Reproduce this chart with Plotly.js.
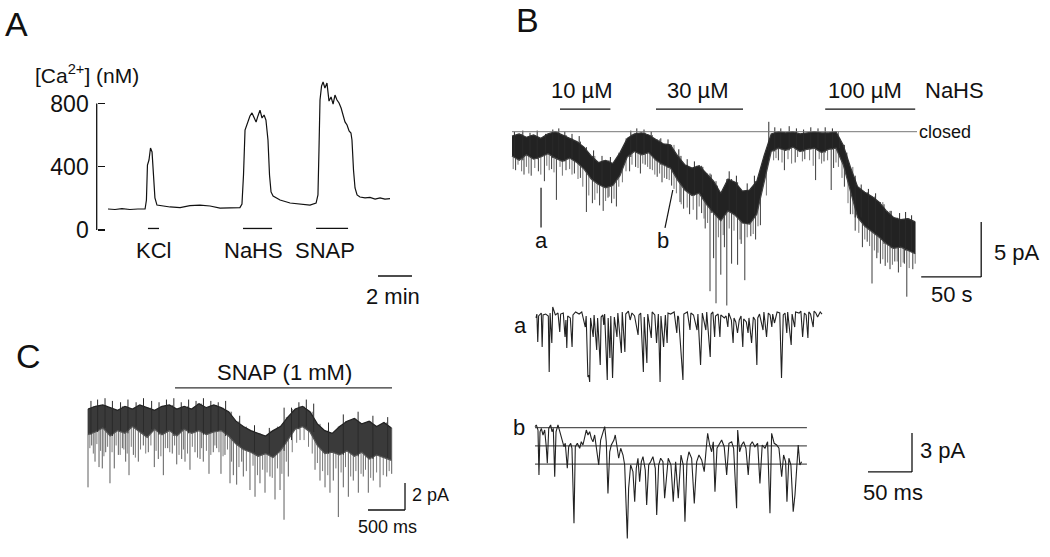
<!DOCTYPE html>
<html>
<head>
<meta charset="utf-8">
<script src="https://cdn.plot.ly/plotly-3.0.1.min.js"></script>
<style>html,body{margin:0;padding:0;background:#fff}#fig{width:1050px;height:557px}</style>
</head>
<body>
<div id="fig"></div>
<script>
// ---- panel A: cytosolic Ca2+ (min, nM)
var caT = [0,0.41,0.82,1.29,1.76,2.18,2.26,2.32,2.41,2.5,2.59,2.68,2.76,2.88,3.18,3.65,4.24,4.82,5.41,6.0,6.59,7.18,7.76,7.88,7.97,8.06,8.24,8.35,8.47,8.59,8.71,8.82,8.94,9.06,9.18,9.29,9.41,9.5,9.59,9.71,9.88,10.12,10.71,11.29,11.88,12.24,12.35,12.41,12.47,12.56,12.65,12.76,12.88,13.0,13.12,13.24,13.35,13.47,13.59,13.71,13.82,13.94,14.06,14.18,14.29,14.35,14.44,14.53,14.65,14.82,15.12,15.41,15.71,16.0,16.29,16.59]
var caV = [133,130,136,130,133,133,190,411,443,519,494,329,203,158,152,146,142,155,158,152,139,139,142,165,348,633,684,722,741,709,684,722,759,709,728,696,570,348,241,215,203,190,171,165,158,171,222,506,823,911,937,899,930,816,842,797,854,823,804,772,728,684,665,627,614,570,380,266,222,209,203,206,196,203,196,199]
var caDrugs = ['KCl', 'NaHS', 'SNAP']
var caOn = [2.35, 7.94, 12.24]
var caOff = [3.0, 9.65, 14.12]
var caTicks = [0, 400, 800]

// ---- panel B: single channel current vs time (s, pA), band of the noisy record
var bT = [0,6,12,18,24,30,36,42,48,54,60,66,72,78,84,90,96,102,108,114,120,126,132,138,144,150,156,162,168,174,180,186,192,198,204,210,216,222,228,234,240,246,252,258,264,270,276,282,288,294,300,306,312,318,324,330,336]
var bHi = [-0.4,-0.2,-0.5,-0.3,-0.6,-0.2,0.0,-0.3,-0.6,-0.9,-1.4,-2.2,-2.8,-2.6,-2.9,-1.9,-0.6,-0.2,-0.1,-0.3,-0.7,-1.1,-1.2,-2.2,-3.0,-3.3,-3.1,-3.8,-4.5,-5.6,-4.3,-4.6,-5.4,-5.3,-4.5,-2.2,-0.2,0.0,-0.1,0.0,-0.2,-0.1,0.0,-0.1,-0.1,0.0,-1.2,-3.2,-5.0,-5.5,-5.9,-6.4,-7.2,-7.8,-8.0,-7.9,-8.2]
var bLo = [-2.2,-2.6,-2.1,-2.5,-2.3,-2.0,-2.4,-2.7,-2.4,-2.8,-3.4,-4.3,-4.8,-5.1,-4.9,-4.0,-2.3,-1.8,-2.1,-1.9,-2.6,-3.0,-3.3,-4.4,-5.3,-5.8,-5.6,-6.6,-7.4,-8.1,-7.2,-7.6,-8.3,-8.4,-7.5,-4.6,-1.8,-1.5,-1.7,-1.4,-1.8,-1.6,-1.5,-1.9,-1.6,-1.5,-3.0,-5.4,-7.8,-8.6,-9.1,-9.6,-10.2,-10.6,-10.5,-10.8,-11.1]
// large openings (s, tip pA)
var bSpT = [3,10,16,22,27,33,37,45,52,57,62,67,73,76,80,83,87,98,103,107,111,115,121,125,129,133,140,143,148,154,158,161,165,168,170,174,177,179,183,188,191,194,199,203,207,222,227,236,244,253,260,266,268,277,282,286,292,296,300,304,307,311,315,319,322,327,329,334]
var bSpV = [-3.5,-3.9,-4.0,-3.6,-4.5,-3.4,-6.2,-3.5,-3.8,-4.2,-7.3,-6.5,-6.7,-7.2,-6.0,-6.5,-6.8,-3.6,-3.2,-3.8,-3.0,-3.4,-4.1,-4.6,-4.3,-4.9,-6.4,-7.0,-7.5,-8.0,-7.4,-8.8,-14.5,-11.5,-15.6,-13.0,-10.5,-15.8,-12.0,-12.1,-10.2,-13.5,-9.5,-9.8,-8.5,-2.6,-3.5,-2.8,-2.5,-4.4,-2.7,-5.3,-3.3,-5.0,-7.5,-9.0,-10.5,-10.0,-13.8,-11.5,-12.0,-12.2,-12.5,-11.8,-12.8,-12.0,-15.0,-12.5]
// small openings forming the grey fringe (s, tip pA)
var bFineT = [1,5,8,12,14,19,24,29,31,35,40,42,48,50,55,59,64,69,71,78,81,85,89,92,95,100,105,109,113,117,119,123,127,131,135,137,141,146,151,156,160,163,172,176,181,185,190,196,201,205,212,218,220,225,230,233,238,242,248,251,256,258,263,270,272,275,280,284,289,294,298,302,305,309,313,317,321,324,326,331,336]
var bFineV = [-3.4,-3.0,-3.6,-3.2,-3.8,-3.3,-3.9,-3.1,-3.5,-3.7,-3.2,-4.0,-3.4,-3.9,-4.3,-5.0,-5.8,-6.2,-5.6,-6.3,-5.9,-6.1,-5.0,-4.6,-3.6,-3.0,-3.3,-2.9,-3.2,-3.5,-3.9,-3.8,-4.2,-4.4,-5.2,-5.6,-6.6,-6.9,-7.1,-6.8,-7.9,-8.3,-9.6,-9.4,-8.8,-9.0,-9.8,-9.6,-9.3,-8.6,-5.8,-2.6,-2.4,-2.8,-2.5,-2.9,-2.3,-2.7,-2.6,-3.1,-2.5,-2.9,-2.6,-2.8,-3.2,-4.2,-6.5,-7.5,-9.2,-9.8,-10.4,-10.8,-11.0,-11.6,-11.9,-12.1,-11.8,-12.3,-11.9,-12.4,-12.0]
// brief closures poking above the band (s, tip pA)
var bUpT = [2,9,15,21,28,34,39,44,50,56,68,75,82,99,104,110,116,124,130,139,146,152,159,166,171,181,187,196,202,214,219,224,231,237,243,249,255,261,267,273,279,286,291,297,303,310,316,323,328,333]
var bUpV = [0.0,0.1,-0.1,0.1,-0.2,0.2,0.3,0.0,-0.2,-0.4,-1.7,-2.2,-2.3,0.1,0.3,0.2,0.0,-0.6,-0.7,-1.6,-2.5,-2.7,-3.2,-3.9,-4.9,-3.6,-4.0,-4.7,-4.0,0.9,0.4,0.3,0.5,0.3,0.2,0.4,0.3,0.4,0.3,-0.6,-1.9,-4.0,-4.8,-5.2,-5.6,-6.6,-7.2,-7.4,-7.3,-7.6]
var bConc = ['10 µM', '30 µM', '100 µM']
var bOn = [40, 120, 261]
var bOff = [82, 192.5, 336]
var bClosedEnd = 337.5
var bMarks = ['a', 'b']
var bMarkT = [24.2, 130]

// ---- inset a (ms, pA)
var saT = [0,1,2,3,6,7,8,11,14,15,16,18,19,22,25,27,28,31,33,34,35,36,39,41,42,45,49,52,56,57,59,60,61,62,65,66,69,70,73,74,76,77,78,81,82,84,85,87,89,92,93,97,98,101,102,105,107,109,112,116,117,119,122,123,126,127,131,132,135,137,139,141,142,145,147,149,150,153,157,160,161,162,167,168,172,175,176,179,183,184,187,189,193,194,198,199,201,203,204,207,209,210,214,216,218,219,222,224,225,227,229,231,233,235,236,239,241,242,245,247,249,251,252,254,258,259,262,264,266,268,269,271,274,277,279,281,283,285,286,290,291,294,295,299,301,303,305,307,309,310,312,315,316,318,320,323,325]
var saV = [-0.38,-0.08,-2.23,-0.23,0,-2.62,-0.15,-0.08,-0.23,-4.54,0,-2.31,0.46,-0.15,0,-1.46,-0.08,0,-1.85,-0.54,-2.69,-0.23,-0.38,-2.62,-0.15,0.08,-0.08,0.08,-1.08,-0.23,-4.92,-4.77,-5.31,-0.38,-1.85,-0.15,-2.85,-0.38,-4.0,-0.31,-0.15,-0.92,-0.08,-5.15,-0.38,-3.46,-0.23,-5.0,-0.31,-1.85,0,-3.08,0.08,-3.0,-0.08,0.15,-0.54,0,-0.23,-1.69,-0.15,0,-4.54,-0.31,-3.85,-0.08,-1.92,0.08,-0.15,-2.31,-0.08,-5.31,-0.23,-2.62,-0.15,-2.31,0,-0.08,0.08,-1.54,-0.23,-0.31,-5.15,-0.08,0.08,-1.31,0,-0.15,-1.31,-0.08,-4.0,0,-1.31,0.08,-3.38,-0.08,0.08,-1.85,-0.23,-0.08,-1.85,-0.15,-0.38,-0.23,-1.08,0,-0.54,-2.31,-0.38,-0.69,-1.54,-0.54,-0.23,-2.62,-0.46,-0.69,-1.54,-0.38,-2.31,-0.31,-0.54,-4.0,-0.38,-0.08,-1.31,0.08,-1.85,0,-0.15,-1.08,-0.08,-0.77,0.08,0,-5.0,-0.15,0,-1.54,0.08,-2.46,-0.08,-1.08,0.08,0,0.15,-1.85,0,-0.15,-1.92,0.08,-0.08,-1.08,0.15,0,-0.31,0.08,-0.08]

// ---- inset b (ms, pA) with closed / open levels
var sbT = [0,1.5,3.4,4.5,5.7,7.2,9.1,11.0,12.8,14.0,15.6,17.8,19.3,20.8,22.4,23.9,26.1,28.1,29.9,31.0,32.9,34.4,36.7,38.3,40.6,42.0,44.3,45.8,48.1,50.8,52.6,54.5,56.5,58.3,60.2,62.1,64.0,65.9,67.8,69.6,72.4,74.6,77.2,79.2,81.0,82.9,84.9,86.7,89.7,91.2,93.5,95.1,97.4,100.0,101.9,103.7,104.9,106.4,108.7,111.3,113.3,115.1,117.0,118.9,120.8,122.7,125.3,126.9,129.2,131.4,134.0,136.7,138.3,140.5,142.8,145.4,147.3,151.4,154.5,157.1,159.8,162.8,165.9,168.5,170.4,172.7,174.9,178.0,181.0,183.7,186.3,189.4,192.3,194.6,196.2,198.5,200.7,202.6,204.5,206.8,209.0,212.1,215.0,217.8,220.4,223.5,225.7,228.0,229.1,230.3,232.5,234.8,237.1,239.7,242.3,244.6,246.9,249.9,253.0,255.6,258.2,261.3,264.3,267.0,268.9,271.8,274.6,277.2,280.3,282.5,284.8,286.3,288.5,290.8,293.4,295.4,297.6,299.1,301.0,303.0]
var sbV = [0.08,0.21,-0.18,-3.64,-0.31,-0.05,-0.56,-0.18,-1.46,-2.74,-0.05,0.21,-0.31,-0.05,-3.77,-0.31,0.21,-0.31,-0.69,-1.08,-1.46,-1.2,-3.12,-1.46,-1.2,-1.58,-7.35,-1.46,-1.2,-1.58,-1.08,-1.33,-0.56,-0.18,-0.56,-0.31,-0.82,-1.08,-0.56,-1.33,-2.87,-0.95,-0.31,0.08,-1.08,-5.05,-1.85,-1.33,-0.95,-0.56,-1.58,-2.35,-1.58,-2.1,-2.87,-6.72,-8.51,-4.66,-2.87,-3.38,-5.69,-3.12,-2.35,-4.15,-2.62,-2.23,-3.25,-5.95,-2.87,-2.62,-2.23,-3.12,-6.72,-2.87,-2.35,-2.62,-5.43,-2.35,-2.87,-5.69,-2.62,-5.43,-2.1,-2.87,-7.23,-2.62,-1.85,-2.35,-5.82,-2.62,-2.1,-2.48,-3.38,-1.58,-0.43,-1.33,-1.85,-1.08,-4.92,-1.58,-1.33,-0.95,-1.46,-3.64,-1.2,-1.08,-1.58,-4.15,-6.2,-0.18,-1.85,-1.33,-1.08,-1.58,-3.64,-1.33,-1.08,-1.46,-1.2,-4.28,-1.33,-1.58,-1.08,-6.58,-0.43,-1.2,-1.33,-1.58,-3.77,-2.1,-2.62,-5.69,-2.35,-2.87,-6.46,-5.18,-2.35,-1.33,-2.87,-2.62]
var sbLevels = [0, -1.4, -2.8]
var sbLevelEnd = 309

// ---- panel C: SNAP record (ms, pA)
var cT = [0,100,200,300,400,500,600,700,800,900,1000,1100,1200,1300,1400,1500,1600,1700,1800,1900,2000,2100,2200,2300,2400,2500,2600,2700,2800,2900,3000,3100,3200,3300,3400,3500,3600,3700,3800,3900,4000,4100]
var cHi = [-0.3,-0.1,0.0,-0.2,-0.4,-0.1,-0.3,0.0,-0.2,-0.4,-0.1,0.0,-0.3,-0.1,-0.3,0.1,-0.2,0.0,-0.2,-0.5,-1.2,-1.6,-1.9,-2.1,-2.3,-1.9,-1.6,-0.9,-0.3,-0.1,-0.5,-1.4,-1.9,-2.1,-1.6,-1.2,-1.0,-1.4,-1.2,-1.6,-1.3,-1.7]
var cLo = [-2.2,-2.0,-1.7,-2.3,-1.9,-2.1,-1.6,-2.0,-2.4,-1.8,-2.2,-1.9,-2.3,-1.8,-2.1,-1.9,-2.2,-2.0,-1.9,-2.3,-2.9,-3.3,-3.5,-3.8,-3.6,-3.9,-3.4,-2.6,-1.8,-1.6,-2.0,-3.0,-3.6,-3.5,-3.7,-3.4,-3.8,-3.5,-4.0,-3.7,-3.9,-4.1]
var cSpT = [0,50,95,149,193,239,297,355,410,464,509,554,613,680,748,815,896,950,1018,1077,1139,1199,1266,1311,1378,1446,1514,1558,1635,1693,1739,1797,1851,1919,1964,2009,2077,2099,2189,2257,2324,2392,2459,2527,2595,2649,2707,2865,3068,3135,3203,3270,3315,3383,3450,3518,3585,3653,3720,3788,3855,3946,4036,4104]
var cSpV = [-6.1,-3.0,-4.2,-4.6,-4.7,-3.5,-5.8,-4.7,-3.7,-3.2,-4.2,-5.2,-3.7,-4.2,-3.0,-3.5,-4.6,-4.0,-5.2,-3.2,-3.6,-4.4,-4.0,-4.2,-4.8,-3.5,-4.0,-4.2,-5.1,-3.5,-3.2,-5.1,-3.7,-5.8,-5.2,-5.9,-4.2,-5.3,-6.3,-6.8,-5.8,-6.5,-5.3,-7.0,-6.3,-8.5,-5.3,-2.6,-4.8,-5.6,-6.1,-6.5,-5.6,-8.3,-6.1,-6.8,-5.6,-6.5,-5.3,-6.5,-5.6,-6.1,-5.3,-5.1]
var cFineT = [25,72,120,170,215,265,325,380,435,485,530,585,640,710,780,850,920,985,1045,1105,1170,1230,1290,1345,1410,1480,1535,1600,1660,1715,1770,1825,1885,1940,2040,2140,2230,2290,2360,2420,2490,2560,2620,2680,2760,2820,2920,2980,3030,3100,3170,3240,3350,3420,3480,3550,3620,3690,3750,3820,3900,3990,4070]
var cFineV = [-3.2,-3.6,-2.9,-3.4,-3.8,-3.1,-3.5,-3.0,-3.7,-3.3,-3.6,-3.1,-3.9,-3.3,-3.6,-3.0,-3.4,-3.8,-3.2,-3.5,-3.0,-3.7,-3.3,-3.6,-3.1,-3.9,-3.2,-3.4,-3.7,-3.0,-3.5,-3.8,-3.3,-4.2,-4.6,-4.9,-4.5,-5.2,-4.8,-5.0,-5.4,-4.7,-5.1,-4.2,-3.5,-2.8,-2.6,-3.1,-3.6,-4.3,-4.9,-5.2,-4.7,-5.0,-4.6,-5.3,-4.9,-5.1,-4.8,-5.4,-5.0,-5.2,-4.9]
var cUpT = [40,130,230,330,440,540,650,750,860,960,1060,1160,1260,1360,1460,1560,1660,1760,1860,2050,2250,2450,2650,2750,2850,2950,3050,3250,3450,3650,3850,4050]
var cUpV = [0.3,0.4,0.5,0.3,0.2,0.4,0.2,0.5,0.3,0.2,0.4,0.5,0.2,0.4,0.3,0.5,0.3,0.2,0.3,-0.8,-1.5,-1.7,-0.2,-0.2,0.2,0.4,0.1,-1.3,-0.7,-0.5,-0.8,-0.9]
var cDrug = 'SNAP (1 mM)'
var cOn = 1176, cOff = 4108

var W = 1050, H = 557
var FONT = 'Liberation Sans, Arial, Helvetica, sans-serif'
var INK = '#111'
function fx(px){ return px / W }
function fy(py){ return 1 - py / H }
function domX(a, b){ return [a / W, b / W] }
function domY(top, bottom){ return [1 - bottom / H, 1 - top / H] }

// segments helper: [x0,x1,null,...]
function segs(a0, a1){
    var out = []
    a0.forEach((v, i) => { out.push(v, a1[i], null) })
    return out
}
function level(n, v){
    var out = []
    for (var i = 0; i < n; i++) out.push(v, v, null)
    return out
}
function nearest(ts, t){
    var best = 0
    ts.forEach((v, i) => { if (Math.abs(v - t) < Math.abs(ts[best] - t)) best = i })
    return best
}
// vertical strokes from the band edge to each event tip
function strokes(spT, spV, bandT, bandEdge){
    var x = [], y = []
    spT.forEach((t, i) => {
        x.push(t, t, null)
        y.push(bandEdge[nearest(bandT, t)], spV[i], null)
    })
    return {x: x, y: y}
}
function strokeTrace(s, ax, color){
    return {x: s.x, y: s.y, xaxis: 'x' + ax, yaxis: 'y' + ax, mode: 'lines', line: {color: color, width: 1}}
}

var traces = []
// A
traces.push({x: caT, y: caV, xaxis: 'x', yaxis: 'y', mode: 'lines', line: {color: INK, width: 1.2}})
traces.push({x: segs(caOn, caOff), y: level(caOn.length, 10), xaxis: 'x', yaxis: 'y', mode: 'lines', line: {color: INK, width: 1.3}})

// B main
traces.push(strokeTrace(strokes(bFineT, bFineV, bT, bHi), 2, '#747474'))
traces.push(strokeTrace(strokes(bSpT, bSpV, bT, bHi), 2, '#3c3c3c'))
traces.push({x: bT, y: bLo, xaxis: 'x2', yaxis: 'y2', mode: 'lines', line: {color: '#444', width: 1.2}})
traces.push({x: bT, y: bHi, xaxis: 'x2', yaxis: 'y2', mode: 'lines', fill: 'tonexty', fillcolor: '#222', line: {color: '#333', width: 1.2}})
traces.push(strokeTrace(strokes(bUpT, bUpV, bT, bLo), 2, '#2a2a2a'))
traces.push({x: [0, bClosedEnd], y: [0, 0], xaxis: 'x2', yaxis: 'y2', mode: 'lines', line: {color: '#777', width: 1}})
traces.push({x: segs(bOn, bOff), y: level(bOn.length, 2.06), xaxis: 'x2', yaxis: 'y2', mode: 'lines', line: {color: INK, width: 1.3}})

// inset a
traces.push({x: saT, y: saV, xaxis: 'x3', yaxis: 'y3', mode: 'lines', line: {color: '#222', width: 1.1}})

// inset b
var lvX = [], lvY = []
sbLevels.forEach(v => { lvX.push(0, sbLevelEnd, null); lvY.push(v, v, null) })
traces.push({x: lvX, y: lvY, xaxis: 'x4', yaxis: 'y4', mode: 'lines', line: {color: '#555', width: 1.2}})
traces.push({x: sbT, y: sbV, xaxis: 'x4', yaxis: 'y4', mode: 'lines', line: {color: '#222', width: 1.1}})

// C
traces.push(strokeTrace(strokes(cFineT, cFineV, cT, cHi), 5, '#7a7a7a'))
traces.push(strokeTrace(strokes(cSpT, cSpV, cT, cHi), 5, '#5e5e5e'))
traces.push({x: cT, y: cLo, xaxis: 'x5', yaxis: 'y5', mode: 'lines', line: {color: '#555', width: 1.2}})
traces.push({x: cT, y: cHi, xaxis: 'x5', yaxis: 'y5', mode: 'lines', fill: 'tonexty', fillcolor: '#3a3a3a', line: {color: '#222', width: 1.2}})
traces.push(strokeTrace(strokes(cUpT, cUpV, cT, cLo), 5, '#2a2a2a'))
traces.push({x: [cOn, cOff], y: [1.26, 1.26], xaxis: 'x5', yaxis: 'y5', mode: 'lines', line: {color: '#333', width: 1.2}})

function ann(text, x, y, xref, yref, size, xanchor, extra){
    var a = {text: text, x: x, y: y, xref: xref, yref: yref, showarrow: false,
        xanchor: xanchor || 'center', yanchor: 'middle',
        font: {family: FONT, size: size, color: INK}}
    return Object.assign(a, extra || {})
}
var annotations = [
    ann('A', fx(16), fy(24), 'paper', 'paper', 34),
    ann('B', fx(527), fy(20), 'paper', 'paper', 34),
    ann('C', fx(28), fy(356), 'paper', 'paper', 34),
    ann('[Ca<sup>2+</sup>] (nM)', fx(33), fy(74), 'paper', 'paper', 21, 'left'),
    ann('2 min', 16.76, -418, 'x', 'y', 22),
    ann('NaHS', 342.5, 3.79, 'x2', 'y2', 22, 'left'),
    ann('closed', bClosedEnd, 0, 'x2', 'y2', 18, 'left'),
    ann('5 pA', 400, -11.0, 'x2', 'y2', 22, 'left'),
    ann('50 s', 366.7, -14.76, 'x2', 'y2', 22),
    ann('a', fx(520), fy(325), 'paper', 'paper', 22),
    ann('b', fx(519), fy(427), 'paper', 'paper', 22),
    ann('3 pA', 435, -1.79, 'x4', 'y4', 22, 'left'),
    ann('50 ms', 406.7, -4.95, 'x4', 'y4', 22),
    ann(cDrug, (cOn + cOff) / 2, 2.44, 'x5', 'y5', 22, 'center', {xshift: 1}),
    ann('2 pA', 4351, -6.67, 'x5', 'y5', 18, 'left'),
    ann('500 ms', 4054, -9.04, 'x5', 'y5', 18)
]
var caShift = [0, -4, -7]
caDrugs.forEach((d, i) => annotations.push(ann(d, (caOn[i] + caOff[i]) / 2, -127, 'x', 'y', 22, 'center', {xshift: caShift[i]})))
var bShift = [-3, -2, -5]
bConc.forEach((d, i) => annotations.push(ann(d, (bOn[i] + bOff[i]) / 2, 3.79, 'x2', 'y2', 22, 'center', {xshift: bShift[i]})))
bMarks.forEach((m, i) => annotations.push(ann(m, bMarkT[i] - (i ? 4 : 0), -9.9, 'x2', 'y2', 22)))

function ln(xref, yref, x0, y0, x1, y1, w, c){
    return {type: 'line', xref: xref, yref: yref, x0: x0, y0: y0, x1: x1, y1: y1, line: {color: c || INK, width: w || 1.3}}
}
var shapes = [
    // A axis spine between 0 and 800 nM
    ln('paper', 'y', fx(96.7), 0, fx(96.7), 800, 1.3),
    // A scale bar 2 min
    ln('x', 'y', 15.88, -291, 17.88, -291),
    // B scale bar 50 s / 5 pA
    ln('x2', 'y2', 341, -13.2, 391, -13.2),
    ln('x2', 'y2', 391, -13.2, 391, -8.2),
    // sample markers
    ln('x2', 'y2', bMarkT[0], -5.1, bMarkT[0], -8.7, 1.2),
    ln('x2', 'y2', bMarkT[1] + 4, -5.3, bMarkT[1] - 2.5, -8.75, 1.2),
    // inset scale bar 50 ms / 3 pA
    ln('x4', 'y4', 378.4, -3.4, 428.4, -3.4),
    ln('x4', 'y4', 428.4, -3.4, 428.4, -0.4),
    // C scale bar 500 ms / 2 pA
    ln('x5', 'y5', 3784, -7.78, 4284, -7.78),
    ln('x5', 'y5', 4284, -7.78, 4284, -5.78)
]

var hidden = {visible: false, fixedrange: true}
var layout = {
    width: W, height: H,
    margin: {l: 0, r: 0, t: 0, b: 0},
    paper_bgcolor: '#fff', plot_bgcolor: 'rgba(0,0,0,0)',
    showlegend: false,
    font: {family: FONT, color: INK},
    xaxis: Object.assign({domain: domX(90, 430), range: [-1.059, 18.94], anchor: 'y'}, hidden),
    yaxis: {domain: domY(60, 310), range: [-506, 1076], anchor: 'free', position: fx(96.7),
        tickmode: 'array', tickvals: caTicks, ticktext: caTicks.map(String),
        ticks: 'inside', ticklen: 7, tickwidth: 1.3, tickcolor: INK,
        showline: false, showgrid: false, zeroline: false, fixedrange: true,
        ticklabelstandoff: 8, tickfont: {family: FONT, size: 23, color: INK}},
    xaxis2: Object.assign({domain: domX(505, 1045), range: [-5.83, 444.17], anchor: 'y2'}, hidden),
    yaxis2: Object.assign({domain: domY(80, 310), range: [-16.21, 4.70], anchor: 'x2'}, hidden),
    xaxis3: Object.assign({domain: domX(530, 830), range: [-6.82, 334.1], anchor: 'y3'}, hidden),
    yaxis3: Object.assign({domain: domY(300, 395), range: [-6.31, 1.0], anchor: 'x3'}, hidden),
    xaxis4: Object.assign({domain: domX(530, 1000), range: [-5.68, 528.4], anchor: 'y4'}, hidden),
    yaxis4: Object.assign({domain: domY(415, 545), range: [-9.02, 0.977], anchor: 'x4'}, hidden),
    xaxis5: Object.assign({domain: domX(80, 440), range: [-108.1, 4756.8], anchor: 'y5'}, hidden),
    yaxis5: Object.assign({domain: domY(355, 530), range: [-9.26, 3.70], anchor: 'x5'}, hidden),
    annotations: annotations,
    shapes: shapes
}

Plotly.newPlot('fig', traces, layout, {staticPlot: true, displayModeBar: false})
</script>
</body>
</html>
